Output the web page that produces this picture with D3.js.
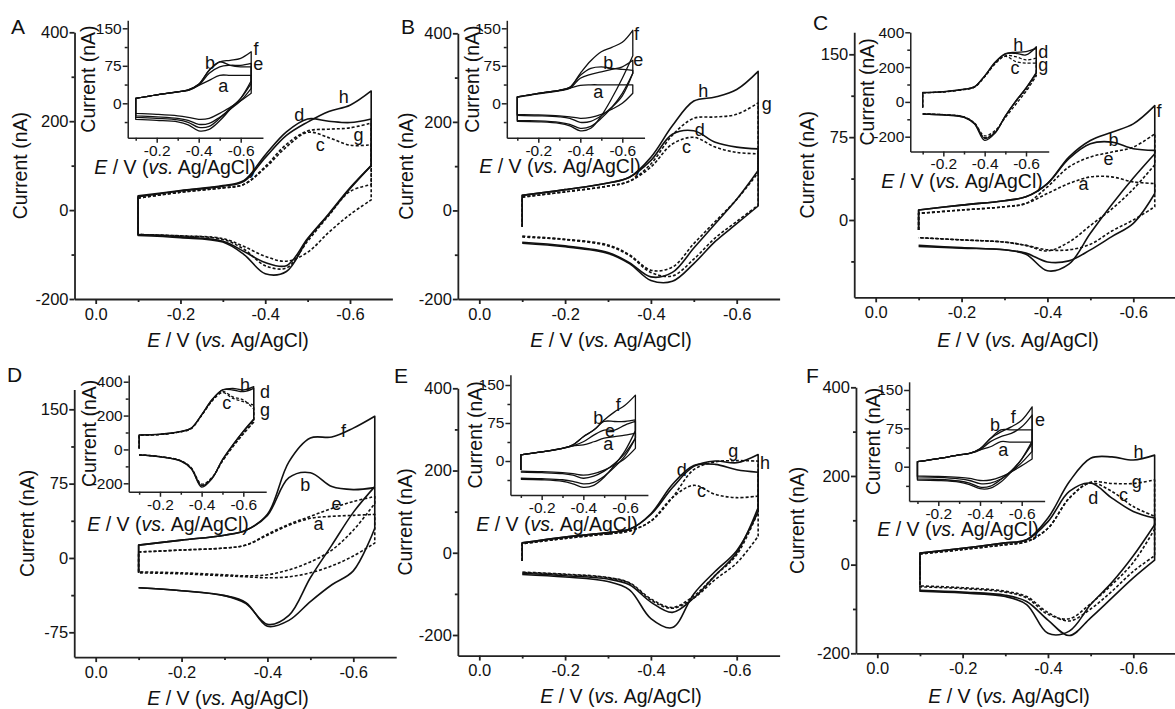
<!DOCTYPE html>
<html>
<head>
<meta charset="utf-8">
<script src="https://cdn.jsdelivr.net/npm/d3@7/dist/d3.min.js"></script>
<style>
  body { margin: 0; background: #fff; }
  text { font-family: "Liberation Sans", Arial, sans-serif; fill: #111; }
</style>
</head>
<body>
<div class="canvas"></div>
<script>
// potential grid (V) shared by every voltammogram, forward scan -0.1 -> -0.65
const potentials = [-0.1, -0.2, -0.3, -0.35, -0.4, -0.45, -0.5, -0.55, -0.6, -0.65];

const xMajor = [0, -0.2, -0.4, -0.6];
const xMinor = [-0.1, -0.3, -0.5];
const insetXMajor = [-0.2, -0.4, -0.6];
const insetXMinor = [-0.1, -0.3, -0.5];
const yMajor400 = [-200, 0, 200, 400];
const yMinor400 = [-100, 100, 300];
const yMajor150 = [-75, 0, 75, 150];
const yMinor150 = [-37.5, 37.5, 112.5];

// ---- panel A (nA) ----  start: current where the scan begins (null = loop closes)
const curvesA = [
  { id: "d", dash: false, start: null, fwd: [32, 44, 55, 67, 124, 176, 205, 200, 197, 205], rev: [-57, -62, -72, -100, -143, -138, -66, -10, 48, 100] },
  { id: "h", dash: false, start: null, fwd: [30, 43, 54, 65, 118, 168, 198, 222, 236, 268], rev: [-55, -60, -70, -93, -118, -125, -64, -8, 50, 100] },
  { id: "c", dash: true, start: null, fwd: [27, 40, 50, 58, 95, 142, 175, 163, 146, 147], rev: [-55, -58, -64, -82, -104, -115, -95, -50, -10, 23] },
  { id: "g", dash: true, start: null, fwd: [27, 40, 50, 58, 98, 148, 178, 182, 185, 196], rev: [-55, -58, -66, -88, -125, -130, -70, -12, 42, 57] }
];
const labelsA = [["d", -0.48, 213], ["h", -0.585, 255], ["c", -0.53, 146], ["g", -0.62, 170]];
const insetCurvesA = [
  { id: "a", dash: false, start: null, fwd: [10, 17, 23, 26, 36, 46, 56, 56, 56, 56], rev: [-20, -22, -25, -28, -32, -30, -20, -8, 5, 20] },
  { id: "b", dash: false, start: null, fwd: [10, 17, 23, 27, 38, 66, 83, 76, 73, 73], rev: [-25, -27, -30, -34, -42, -40, -28, -12, 5, 30] },
  { id: "e", dash: false, start: null, fwd: [10, 17, 23, 26, 36, 60, 73, 76, 76, 80], rev: [-28, -30, -33, -38, -48, -46, -30, -10, 10, 40] },
  { id: "f", dash: false, start: null, fwd: [10, 17, 23, 27, 38, 66, 83, 86, 90, 103], rev: [-32, -34, -37, -43, -55, -52, -35, -12, 10, 45] }
];
const insetLabelsA = [["b", -0.454, 80], ["f", -0.673, 108], ["e", -0.684, 78], ["a", -0.517, 34]];

// ---- panel B ----
const curvesB = [
  { id: "h", dash: false, start: -37, fwd: [34, 47, 62, 75, 120, 191, 247, 256, 273, 314], rev: [-72, -80, -95, -118, -150, -140, -85, -30, 25, 90] },
  { id: "d", dash: false, start: -37, fwd: [34, 47, 62, 75, 113, 172, 180, 154, 143, 139], rev: [-74, -82, -97, -120, -158, -160, -120, -70, -30, 10] },
  { id: "g", dash: true, start: -37, fwd: [30, 42, 55, 66, 105, 170, 208, 211, 217, 243], rev: [-58, -65, -78, -100, -135, -128, -75, -25, 25, 85] },
  { id: "c", dash: true, start: -37, fwd: [30, 42, 55, 66, 98, 150, 165, 143, 131, 128], rev: [-60, -66, -80, -102, -140, -148, -110, -62, -25, 12] }
];
const labelsB = [["h", -0.522, 269], ["g", -0.67, 240], ["d", -0.514, 182], ["c", -0.483, 143]];
const insetCurvesB = [
  { id: "a", dash: false, start: null, fwd: [13, 20, 26, 30, 36, 37, 37, 37, 37, 37], rev: [-22, -23, -25, -27, -30, -28, -22, -12, 0, 20] },
  { id: "b", dash: false, start: null, fwd: [13, 20, 26, 32, 56, 70, 73, 70, 68, 66], rev: [-24, -25, -27, -30, -38, -36, -25, -8, 15, 60] },
  { id: "e", dash: false, start: null, fwd: [12, 19, 25, 30, 50, 58, 63, 68, 73, 86], rev: [-34, -35, -38, -42, -50, -46, -30, -8, 20, 60] },
  { id: "f", dash: false, start: null, fwd: [13, 20, 26, 32, 60, 85, 103, 112, 122, 146], rev: [-36, -37, -40, -45, -55, -50, -25, 10, 50, 95] }
];
const insetLabelsB = [["f", -0.668, 139], ["e", -0.676, 86], ["b", -0.533, 80], ["a", -0.486, 23]];

// ---- panel C ----
const curvesC = [
  { id: "f", dash: false, start: -9, fwd: [9, 13.5, 17.5, 21, 33, 57, 72, 79.5, 87, 103.5], rev: [-24, -25.5, -27, -31, -46, -40, -12, 14, 38, 60] },
  { id: "b", dash: false, start: -9, fwd: [9, 13.5, 17.5, 21, 33, 55.5, 69, 70.5, 64.5, 63], rev: [-23, -25, -27, -30, -38, -37, -27, -15, -3, 24] },
  { id: "e", dash: true, start: -9, fwd: [6, 9, 12, 15, 30, 48, 57, 61.5, 66, 78], rev: [-16, -18, -20, -23, -28, -20, -5, 10, 28, 50] },
  { id: "a", dash: true, start: -9, fwd: [6, 9, 12, 15, 24, 33, 39, 39, 34.5, 33], rev: [-16, -18, -20, -23, -27, -27, -22, -10, 0, 12] }
];
const labelsC = [["f", -0.66, 99], ["b", -0.554, 72], ["e", -0.542, 55.5], ["a", -0.484, 33]];
const insetCurvesC = [
  { id: "c", dash: true, start: -32, fwd: [53, 58, 72, 85, 145, 220, 262, 232, 223, 223], rev: [-68, -73, -86, -120, -195, -165, -90, -15, 60, 150] },
  { id: "d", dash: false, start: -32, fwd: [53, 58, 72, 86, 148, 225, 275, 279, 270, 317], rev: [-70, -75, -89, -126, -221, -180, -80, 5, 80, 170] },
  { id: "g", dash: true, start: -32, fwd: [52, 57, 71, 84, 144, 218, 265, 260, 241, 251], rev: [-68, -73, -86, -122, -205, -172, -85, 0, 70, 160] },
  { id: "h", dash: false, start: -32, fwd: [54, 59, 73, 86, 150, 228, 277, 285, 289, 307], rev: [-70, -75, -88, -124, -210, -176, -82, 3, 78, 165] }
];
const insetLabelsC = [["h", -0.563, 326], ["d", -0.684, 289], ["c", -0.547, 194], ["g", -0.684, 213]];

// ---- panel D ----
const curvesD = [
  { id: "f", dash: false, start: -15, fwd: [13, 18, 23, 28, 44, 97, 121, 122, 131, 143], rev: [-30, -33, -38, -46, -67, -58, -20, 13, 46, 72] },
  { id: "b", dash: false, start: -15, fwd: [13, 18, 23, 28, 43, 81, 86, 72, 69, 71], rev: [-30, -33, -38, -45, -69, -63, -44, -27, -13, 30] },
  { id: "e", dash: true, start: null, fwd: [6, 8, 10, 13, 24, 34, 42, 50, 57, 62], rev: [-14, -15, -17, -18, -17, -12, -4, 8, 28, 55] },
  { id: "a", dash: true, start: null, fwd: [6, 8, 10, 13, 23, 33, 40, 42, 43, 44], rev: [-15, -16, -18, -19, -20, -19, -15, -8, 2, 15] }
];
const labelsD = [["f", -0.577, 128], ["b", -0.488, 74], ["e", -0.561, 54], ["a", -0.519, 34]];
const insetCurvesD = [
  { id: "c", dash: true, start: 6, fwd: [84, 88, 104, 123, 200, 285, 335, 302, 282, 262], rev: [-32, -42, -66, -108, -205, -165, -70, 15, 90, 160] },
  { id: "d", dash: false, start: 6, fwd: [85, 89, 105, 125, 203, 292, 351, 351, 341, 361], rev: [-33, -43, -68, -112, -222, -172, -62, 26, 105, 175] },
  { id: "g", dash: true, start: 6, fwd: [84, 88, 104, 124, 201, 288, 342, 310, 292, 240], rev: [-32, -42, -67, -110, -212, -168, -66, 20, 95, 165] },
  { id: "h", dash: false, start: 6, fwd: [86, 90, 106, 126, 205, 295, 352, 361, 351, 371], rev: [-34, -44, -69, -114, -215, -170, -60, 28, 108, 180] }
];
const insetLabelsD = [["h", -0.608, 380], ["d", -0.704, 341], ["c", -0.52, 272], ["g", -0.704, 233]];

// ---- panel E ----
const curvesE = [
  { id: "h", dash: false, start: -20, fwd: [24, 38, 49, 57, 93, 158, 210, 223, 219, 239], rev: [-53, -59, -70, -90, -160, -182, -100, -45, 5, 100] },
  { id: "d", dash: false, start: -20, fwd: [24, 38, 49, 57, 95, 166, 212, 215, 202, 196], rev: [-50, -56, -64, -78, -120, -145, -110, -55, 0, 110] },
  { id: "g", dash: true, start: -20, fwd: [22, 35, 46, 53, 77, 134, 202, 221, 224, 223], rev: [-47, -52, -60, -73, -112, -133, -105, -55, -5, 100] },
  { id: "c", dash: true, start: -20, fwd: [22, 35, 46, 53, 77, 134, 164, 142, 134, 138], rev: [-48, -53, -61, -74, -115, -135, -110, -65, -25, 40] }
];
const labelsE = [["d", -0.472, 202], ["g", -0.592, 247], ["h", -0.666, 219], ["c", -0.518, 150]];
const insetCurvesE = [
  { id: "a", dash: false, start: -18, fwd: [12, 18, 25, 30, 32, 38, 45, 48, 51, 55], rev: [-20, -21, -23, -25, -28, -25, -18, -8, 5, 25] },
  { id: "b", dash: false, start: -18, fwd: [12, 18, 25, 32, 48, 61, 78, 78, 78, 81], rev: [-22, -23, -25, -28, -34, -30, -20, -5, 15, 45] },
  { id: "e", dash: false, start: -18, fwd: [12, 18, 25, 30, 38, 51, 61, 61, 71, 78], rev: [-34, -35, -37, -40, -45, -42, -30, -12, 10, 45] },
  { id: "f", dash: false, start: -18, fwd: [12, 18, 25, 32, 48, 61, 81, 97, 110, 130], rev: [-36, -37, -40, -45, -52, -48, -32, -8, 20, 60] }
];
const insetLabelsE = [["f", -0.568, 110], ["b", -0.472, 84], ["e", -0.528, 59], ["a", -0.52, 33]];

// ---- panel F ----
const curvesF = [
  { id: "h", dash: false, start: null, fwd: [26, 37, 49, 56, 105, 187, 240, 243, 236, 247], rev: [-60, -64, -72, -90, -155, -150, -90, -40, 20, 90] },
  { id: "d", dash: false, start: -26, fwd: [26, 37, 49, 56, 97, 165, 184, 150, 120, 105], rev: [-58, -62, -69, -83, -125, -160, -120, -75, -30, 10] },
  { id: "c", dash: true, start: null, fwd: [24, 34, 45, 52, 82, 150, 184, 165, 131, 109], rev: [-48, -52, -60, -72, -108, -127, -100, -60, -15, 20] },
  { id: "g", dash: true, start: null, fwd: [24, 34, 45, 52, 82, 150, 186, 183, 183, 191], rev: [-50, -54, -62, -75, -112, -122, -88, -45, 5, 80] }
];
const labelsF = [["h", -0.612, 255], ["g", -0.608, 187], ["c", -0.577, 157], ["d", -0.506, 150]];
const insetCurvesF = [
  { id: "a", dash: false, start: null, fwd: [10, 16, 23, 26, 33, 39, 49, 48, 48, 48], rev: [-18, -19, -21, -23, -27, -26, -20, -10, 2, 15] },
  { id: "b", dash: false, start: null, fwd: [10, 16, 23, 26, 35, 55, 72, 72, 72, 72], rev: [-20, -21, -24, -27, -33, -32, -24, -10, 8, 30] },
  { id: "e", dash: false, start: null, fwd: [10, 16, 23, 26, 33, 49, 59, 65, 78, 101], rev: [-24, -25, -28, -32, -40, -38, -25, -8, 15, 45] },
  { id: "f", dash: false, start: null, fwd: [10, 16, 23, 26, 35, 55, 68, 78, 91, 117], rev: [-26, -27, -30, -35, -43, -42, -30, -10, 15, 50] }
];
const insetLabelsF = [["b", -0.472, 82], ["f", -0.56, 98], ["e", -0.688, 91], ["a", -0.512, 33]];

// ---- layout (pixels) ----
// xPx: pixel of E = 0 and E = -0.6 ; yRef: [value1, pixel1, value2, pixel2]
const panels = [
  {
    letter: "A", letterPos: [11, 34],
    main: { xPx: [95.7, 350], xExt: [0.05, -0.7], yRef: [400, 32.3, -200, 299], yExt: [-200, 400],
            yMajor: yMajor400, yMinor: yMinor400, yTitleX: 20, xTitle: [228, 340] },
    inset: { xPx: [114.7, 240.7], xExt: [-0.062, -0.706], yRef: [150, 28.3, 0, 103.3], yExt: [-69, 166],
             yMajor: [0, 75, 150], yMinor: [-37.5, 37.5, 112.5], yTitleX: 88, xTitle: [175, 167] },
    curves: curvesA, labels: labelsA, insetCurves: insetCurvesA, insetLabels: insetLabelsA
  },
  {
    letter: "B", letterPos: [401, 34],
    main: { xPx: [479.3, 736.7], xExt: [0.05, -0.7], yRef: [400, 33.3, -200, 299], yExt: [-200, 400],
            yMajor: yMajor400, yMinor: yMinor400, yTitleX: 406, xTitle: [611, 340] },
    inset: { xPx: [496.3, 622.3], xExt: [-0.05, -0.706], yRef: [150, 28.3, 0, 103.3], yExt: [-69, 166],
             yMajor: [0, 75, 150], yMinor: [-37.5, 37.5, 112.5], yTitleX: 472, xTitle: [560, 166] },
    curves: curvesB, labels: labelsB, insetCurves: insetCurvesB, insetLabels: insetLabelsB
  },
  {
    letter: "C", letterPos: [813, 30],
    main: { xPx: [875.7, 1133.3], xExt: [0.05, -0.7], yRef: [150, 54.3, 0, 220], yExt: [-70, 170],
            yMajor: yMajor150, yMinor: yMinor150, yTitleX: 807, xTitle: [1018, 340] },
    inset: { xPx: [902, 1026], xExt: [-0.04, -0.71], yRef: [400, 32.3, -200, 136.7], yExt: [-285, 400],
             yMajor: yMajor400, yMinor: yMinor400, yTitleX: 867, xTitle: [962, 181] },
    curves: curvesC, labels: labelsC, insetCurves: insetCurvesC, insetLabels: insetLabelsC
  },
  {
    letter: "D", letterPos: [7, 382],
    main: { xPx: [95.7, 353.3], xExt: [0.05, -0.7], yRef: [150, 409.3, -75, 632.3], yExt: [-100, 170],
            yMajor: yMajor150, yMinor: yMinor150, yTitleX: 27, xTitle: [228, 698] },
    inset: { xPx: [118.3, 243.3], xExt: [-0.05, -0.71], yRef: [400, 381.7, -200, 483.3], yExt: [-250, 440],
             yMajor: yMajor400, yMinor: yMinor400, yTitleX: 89, xTitle: [168, 524] },
    curves: curvesD, labels: labelsD, insetCurves: insetCurvesD, insetLabels: insetLabelsD
  },
  {
    letter: "E", letterPos: [394, 383],
    main: { xPx: [479.3, 736.7], xExt: [0.05, -0.7], yRef: [400, 388.3, -200, 635], yExt: [-250, 400],
            yMajor: yMajor400, yMinor: yMinor400, yTitleX: 405, xTitle: [621, 696] },
    inset: { xPx: [500, 625], xExt: [-0.05, -0.71], yRef: [150, 385, 0, 461], yExt: [-67, 170],
             yMajor: [0, 75, 150], yMinor: [-37.5, 37.5, 112.5], yTitleX: 475, xTitle: [557, 524] },
    curves: curvesE, labels: labelsE, insetCurves: insetCurvesE, insetLabels: insetLabelsE
  },
  {
    letter: "F", letterPos: [806, 383],
    main: { xPx: [877.3, 1133.3], xExt: [0.05, -0.7], yRef: [400, 387.3, -200, 653.3], yExt: [-200, 400],
            yMajor: yMajor400, yMinor: yMinor400, yTitleX: 797, xTitle: [1009, 696] },
    inset: { xPx: [896.6, 1021.7], xExt: [-0.06, -0.71], yRef: [150, 390, 0, 466.7], yExt: [-67, 166],
             yMajor: [0, 75, 150], yMinor: [-37.5, 37.5, 112.5], yTitleX: 873, xTitle: [958, 529] },
    curves: curvesF, labels: labelsF, insetCurves: insetCurvesF, insetLabels: insetLabelsF
  }
];

const svg = d3
  .select(".canvas")
  .append("svg")
  .attr("width", 1175)
  .attr("height", 709)
  .style("background", "#fff");

const FONT = '"Liberation Sans", Arial, sans-serif';

const lineGen = d3.line().curve(d3.curveCatmullRom.alpha(0.5));

const drawPlot = (L, curves, labels, isInset) => {
  const kx = (L.xPx[1] - L.xPx[0]) / -0.6;
  const px = e => L.xPx[0] + kx * e;
  const x = d3.scaleLinear().domain(L.xExt).range(L.xExt.map(px));

  const ky = (L.yRef[3] - L.yRef[1]) / (L.yRef[2] - L.yRef[0]);
  const py = v => L.yRef[1] + ky * (v - L.yRef[0]);
  const y = d3.scaleLinear().domain(L.yExt).range(L.yExt.map(py));

  const inExt = (v, ext) => v >= Math.min(...ext) && v <= Math.max(...ext);
  const g = svg.append("g");

  const bottom = y(L.yExt[0]);
  const left = x(L.xExt[0]);
  const tickFont = isInset ? 15.5 : 16.5;

  // curves: forward branch, switching drop at -0.65, reverse branch back to -0.1
  const sw = isInset ? 1.3 : 1.6;
  curves.forEach(c => {
    const fwd = potentials.map((e, i) => [x(e), y(c.fwd[i])]);
    const rev = potentials.map((e, i) => [x(e), y(c.rev[i])]).reverse();
    let d = lineGen(fwd) + lineGen(rev).replace(/^M/, "L");
    if (c.start === null) d += "Z";
    else d = `M${x(potentials[0])},${y(c.start)}` + d.replace(/^M/, "L");
    g.append("path")
      .attr("d", d)
      .attr("fill", "none")
      .attr("stroke", "#111")
      .attr("stroke-width", sw)
      .attr("stroke-dasharray", c.dash ? "3,2" : null)
      .attr("stroke-linejoin", "round");
  });

  // x axis
  const xAxisG = g.append("g").attr("transform", `translate(0, ${bottom})`);
  xAxisG.call(
    d3.axisBottom(x)
      .tickValues(isInset ? insetXMajor : xMajor)
      .tickFormat(d => d.toFixed(1))
      .tickSize(5)
      .tickSizeOuter(0)
      .tickPadding(isInset ? 2 : 4)
  );
  const xMinorG = g.append("g").attr("transform", `translate(0, ${bottom})`);
  xMinorG.call(d3.axisBottom(x).tickValues(isInset ? insetXMinor : xMinor).tickSize(3).tickFormat(""));
  xMinorG.select(".domain").remove();

  // y axis
  const yAxisG = g.append("g").attr("transform", `translate(${left}, 0)`);
  yAxisG.call(
    d3.axisLeft(y)
      .tickValues(L.yMajor.filter(v => inExt(v, L.yExt)))
      .tickFormat(d => d)
      .tickSize(5)
      .tickSizeOuter(0)
      .tickPadding(1)
  );
  const yMinorG = g.append("g").attr("transform", `translate(${left}, 0)`);
  yMinorG.call(d3.axisLeft(y).tickValues(L.yMinor.filter(v => inExt(v, L.yExt))).tickSize(3).tickFormat(""));
  yMinorG.select(".domain").remove();

  [xAxisG, xMinorG, yAxisG, yMinorG].forEach(a => {
    a.attr("font-family", FONT).attr("font-size", tickFont);
    a.selectAll("path, line").attr("stroke", "#222").attr("stroke-width", isInset ? 1.5 : 1.8);
    a.selectAll("text").attr("fill", "#111");
  });

  // titles
  g.append("text")
    .attr("transform", `translate(${L.yTitleX}, ${(y.range()[0] + y.range()[1]) / 2}) rotate(-90)`)
    .attr("text-anchor", "middle")
    .attr("dominant-baseline", "central")
    .attr("font-size", 19.5)
    .text("Current (nA)");

  const xt = g.append("text")
    .attr("x", L.xTitle[0])
    .attr("y", L.xTitle[1])
    .attr("text-anchor", "middle")
    .attr("dominant-baseline", "central")
    .attr("font-size", 19.5);
  xt.append("tspan").attr("font-style", "italic").text("E");
  xt.append("tspan").text(" / V (");
  xt.append("tspan").attr("font-style", "italic").text("vs.");
  xt.append("tspan").text(" Ag/AgCl)");

  // curve labels
  labels.forEach(([t, e, v]) => {
    g.append("text")
      .attr("x", x(e))
      .attr("y", y(v))
      .attr("text-anchor", "middle")
      .attr("dominant-baseline", "central")
      .attr("font-size", 18)
      .text(t);
  });
};

panels.forEach(p => {
  drawPlot(p.main, p.curves, p.labels, false);
  drawPlot(p.inset, p.insetCurves, p.insetLabels, true);
  svg.append("text")
    .attr("x", p.letterPos[0])
    .attr("y", p.letterPos[1])
    .attr("font-size", 21)
    .text(p.letter);
});
</script>
</body>
</html>
